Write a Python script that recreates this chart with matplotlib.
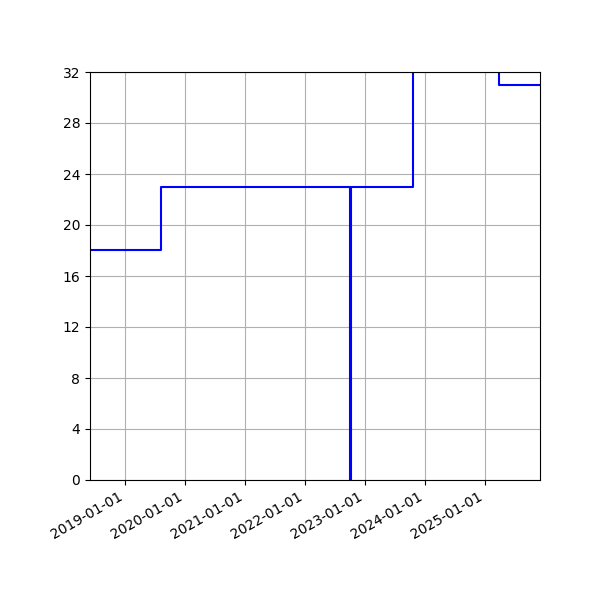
import numpy as np
import pandas as pd
import matplotlib
matplotlib.use("Agg")
import matplotlib.pyplot as plt
import matplotlib.dates as mdates

# step series (value held until the next date)
dates = pd.to_datetime([
    "2018-06-01", "2019-08-08", "2022-10-01", "2022-10-07",
    "2023-10-19", "2025-03-27", "2025-12-01",
])
values = [18, 23, 0, 23, 40, 31, 31]

fig, ax = plt.subplots(figsize=(6, 6), dpi=100)
fig.subplots_adjust(left=0.15, right=0.9, top=0.88, bottom=0.2)

ax.plot(dates, values, color="blue", drawstyle="steps-post", linewidth=1.5)

ax.set_xlim(pd.Timestamp("2018-06-01"), pd.Timestamp("2025-12-01"))
ax.set_ylim(0, 32)
ax.set_yticks(np.arange(0, 33, 4))
ax.xaxis.set_major_locator(mdates.YearLocator())
ax.xaxis.set_major_formatter(mdates.DateFormatter("%Y-%m-%d"))
ax.grid(True, color="#b0b0b0")
for lbl in ax.get_xticklabels():
    lbl.set_rotation(30)
    lbl.set_ha("right")

plt.savefig("out.png")
